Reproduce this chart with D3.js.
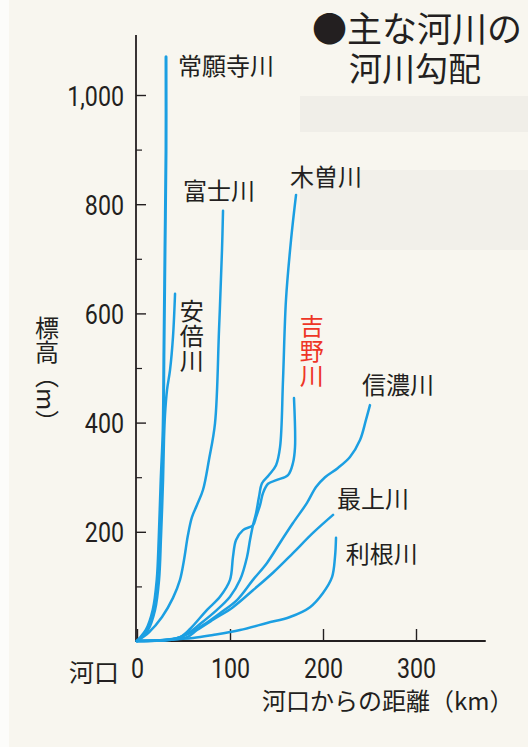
<!DOCTYPE html>
<html>
<head>
<meta charset="utf-8">
<script src="https://cdn.jsdelivr.net/npm/d3@7"></script>
<style>
  html, body { margin: 0; padding: 0; background: #f8f6ef; }
  svg { display: block; }
</style>
</head>
<body>
<div id="chart"></div>
<script>
// River profiles: [distance from mouth (km), elevation (m)]
const joganji = [[31.2,1070],[31.2,899],[30.1,716],[29.0,533],[28.0,386],[25.8,295],[23.7,190],[21.5,112],[17.2,57],[9.7,20],[0,0]];
const abe     = [[40.9,636],[38.7,557],[35.5,496],[32.3,460],[30.1,414],[29.0,368],[28.0,295],[25.8,190],[23.7,112],[19.4,57],[11.8,20],[0,0]];
const fuji    = [[92.5,788],[91.4,716],[88.2,570],[83.9,399],[77.4,332],[71.0,277],[64.5,249],[59.1,227],[54.8,194],[50.5,148],[46.2,112],[38.7,79],[26.9,44],[12.9,16],[0,0]];
const kiso    = [[171,817],[165.6,734],[160.2,625],[157,478],[153.8,355],[149.5,322],[141.9,304],[134.4,289],[131.2,264],[128,234],[124.7,212],[121.5,185],[118.3,154],[110.8,112],[100,81],[86,57],[67.7,31],[53.8,13],[40.9,4],[0,0]];
const yoshino = [[168.8,445],[169.9,355],[167.7,326],[162.4,304],[150.5,295],[140.9,288],[135.5,271],[132.3,249],[128,227],[124.7,212],[114,203],[106.5,185],[103.2,154],[100,112],[89.2,81],[75.3,57],[57,22],[46.2,7],[30.1,2],[0,0]];
const shinano = [[250.5,432],[246.2,405],[239.8,368],[229,337],[216.1,317],[202.2,300],[192.5,282],[182.8,253],[167.7,216],[153.8,180],[139.8,143],[124.7,112],[107.5,75],[89.2,51],[71,29],[57,15],[40.9,4],[0,0]];
const mogami  = [[210.8,231],[189.2,198],[167.7,161],[146.2,125],[124.7,93],[103.2,62],[81.7,39],[64.5,20],[53.8,7],[35.5,2],[0,0]];
const tone    = [[214,189],[212.9,154],[209.7,117],[200,88],[186,62],[164.5,44],[139.8,33],[110.8,20],[81.7,11],[60.2,5.5],[30.1,2],[0,0]];

const riverNames = ['常願寺川', '安倍川', '富士川', '木曽川', '吉野川', '信濃川', '最上川', '利根川'];
const riverData  = [joganji, abe, fuji, kiso, yoshino, shinano, mogami, tone];

// Axis ticks
const yMajorTicks = [200, 400, 600, 800, 1000];
const yMinorTicks = [100, 300, 500, 700, 900];
const xTicks = [0, 100, 200, 300];

// Layout
const CFG = {
  width: 528,
  height: 747,
  blue: '#1c9fe2',
  red: '#ee3526',
  ink: '#231f20',
  cjk: '"Noto Sans CJK JP", "Noto Sans", sans-serif',
  num: 'Roboto, "Liberation Sans", sans-serif',
  numSquash: 0.83,
};

// label anchors in data units (km, m); vertical ones are column centre / top
const labelPos = {
  '常願寺川': { km: 44, m: 1036, vertical: false },
  '富士川':   { km: 49.5, m: 808, vertical: false },
  '木曽川':   { km: 164.5, m: 833, vertical: false },
  '信濃川':   { km: 242, m: 452, vertical: false },
  '最上川':   { km: 215, m: 243, vertical: false },
  '利根川':   { km: 224.5, m: 143, vertical: false },
  '安倍川':   { km: 59, m: 627, vertical: true },
  '吉野川':   { km: 188, m: 600, vertical: true },
};

const svg = d3.select('#chart').append('svg')
  .attr('width', CFG.width).attr('height', CFG.height)
  .attr('viewBox', `0 0 ${CFG.width} ${CFG.height}`);

// paper
svg.append('rect').attr('width', CFG.width).attr('height', CFG.height).attr('fill', '#f8f6ef');
svg.append('rect').attr('width', 9).attr('height', CFG.height).attr('fill', '#fcfcfa');
// faint show-through bands from the reverse page
svg.append('rect').attr('x', 300).attr('y', 96).attr('width', 228).attr('height', 36).attr('fill', '#f0eee8');
svg.append('rect').attr('x', 300).attr('y', 170).attr('width', 228).attr('height', 80).attr('fill', '#f2f0ea');

const x = d3.scaleLinear().domain([0, 300]).range([137, 416]);
const y = d3.scaleLinear().domain([0, 1000]).range([641, 95]);

// Y axis
const yAxisG = svg.append('g').attr('transform', `translate(${x(0) - 1},0)`);
yAxisG.call(d3.axisLeft(y).tickValues(yMajorTicks).tickSize(-10).tickSizeOuter(0)
  .tickFormat(d3.format(',')));
yAxisG.select('.domain').remove();
yAxisG.selectAll('line').attr('stroke', CFG.ink).attr('stroke-width', 1.4);
yAxisG.selectAll('text')
  .attr('font-family', CFG.num).attr('font-size', 28).attr('fill', CFG.ink)
  .attr('text-anchor', 'end')
  .attr('x', -12 / CFG.numSquash)
  .attr('dy', '0.36em')
  .attr('transform', `scale(${CFG.numSquash},1)`);

const yMinorG = svg.append('g').attr('transform', `translate(${x(0) - 1},0)`);
yMinorG.call(d3.axisLeft(y).tickValues(yMinorTicks).tickSize(-6).tickSizeOuter(0).tickFormat(''));
yMinorG.select('.domain').remove();
yMinorG.selectAll('line').attr('stroke', CFG.ink).attr('stroke-width', 1.2);

svg.append('line')
  .attr('x1', x(0) - 1).attr('x2', x(0) - 1)
  .attr('y1', y(0)).attr('y2', y(1110))
  .attr('stroke', CFG.ink).attr('stroke-width', 1.8);

// X axis
const xAxisG = svg.append('g').attr('transform', `translate(0,${y(0)})`);
xAxisG.call(d3.axisBottom(x).tickValues(xTicks).tickSize(-12).tickSizeOuter(0).tickPadding(17));
xAxisG.select('.domain').remove();
xAxisG.selectAll('line').attr('stroke', CFG.ink).attr('stroke-width', 1.4);
xAxisG.selectAll('text')
  .attr('font-family', CFG.num).attr('font-size', 28).attr('fill', CFG.ink)
  .attr('x', 0).attr('transform', `scale(${CFG.numSquash},1)`);

svg.append('line')
  .attr('x1', x(0) - 2).attr('x2', x(375))
  .attr('y1', y(0)).attr('y2', y(0))
  .attr('stroke', CFG.ink).attr('stroke-width', 2.2);

// River profiles
const line = d3.line()
  .x(d => x(d[0]))
  .y(d => y(d[1]))
  .curve(d3.curveCatmullRom.alpha(0.5));

svg.append('g').selectAll('path')
  .data(riverData)
  .join('path')
  .attr('d', line)
  .attr('fill', 'none')
  .attr('stroke', CFG.blue)
  .attr('stroke-width', (d, i) => i === 0 ? 3 : 2.5)
  .attr('stroke-linecap', 'round')
  .attr('stroke-linejoin', 'round');

// River labels
riverNames.forEach(name => {
  const p = labelPos[name];
  const t = svg.append('text')
    .attr('x', x(p.km)).attr('y', y(p.m))
    .attr('font-family', CFG.cjk).attr('font-size', 24)
    .attr('fill', name === '吉野川' ? CFG.red : CFG.ink)
    .text(name);
  if (p.vertical) t.style('writing-mode', 'vertical-rl').attr('letter-spacing', 1);
});

// Axis titles
svg.append('text')
  .attr('x', 47).attr('y', 316)
  .attr('font-family', CFG.cjk).attr('font-size', 24)
  .attr('fill', CFG.ink)
  .style('writing-mode', 'vertical-rl')
  .text('標高（m）');

svg.append('text')
  .attr('x', 69).attr('y', 682)
  .attr('font-family', CFG.cjk).attr('font-size', 25)
  .attr('fill', CFG.ink)
  .text('河口');

svg.append('text')
  .attr('x', 262).attr('y', 710)
  .attr('font-family', CFG.cjk).attr('font-size', 24)
  .attr('fill', CFG.ink)
  .text('河口からの距離（km）');

// Title, two lines in one text block
const title = svg.append('text')
  .attr('font-family', CFG.cjk)
  .attr('fill', CFG.ink);
title.append('tspan')
  .attr('x', 312).attr('y', 42)
  .attr('font-size', 35)
  .text('●主な河川の');
title.append('tspan')
  .attr('x', 349).attr('y', 81)
  .attr('font-size', 33)
  .text('河川勾配');
</script>
</body>
</html>
